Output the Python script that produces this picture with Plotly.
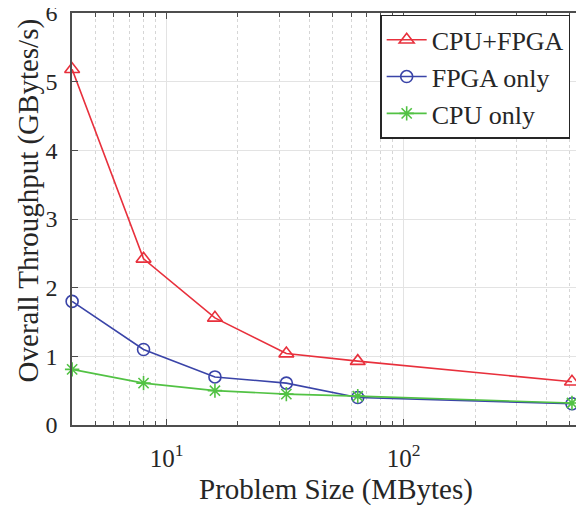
import plotly.graph_objects as go

sizes = [4, 8, 16, 32, 64, 512]
cpu_fpga = [5.18, 2.42, 1.56, 1.04, 0.93, 0.63]
fpga_only = [1.80, 1.10, 0.70, 0.61, 0.40, 0.31]
cpu_only = [0.81, 0.61, 0.50, 0.45, 0.42, 0.32]
series_names = ["CPU+FPGA", "FPGA only", "CPU only"]
y_ticks = [0, 1, 2, 3, 4, 5, 6]
x_tick_vals = [10, 100]
x_tick_text = ["10<sup>1</sup>", "10<sup>2</sup>"]
x_minor_vals = [m * 10 ** e for e in range(0, 3) for m in range(2, 10)]

FONT = "Liberation Serif"
TXT = "#262626"
AX = "#4d4d4d"
RED = "#e8303c"
BLUE = "#3a44a8"
GREEN = "#52c244"

fig = go.Figure()
fig.add_trace(go.Scatter(x=sizes, y=cpu_fpga, name=series_names[0], mode="lines+markers",
                         cliponaxis=False,
                         line=dict(color=RED, width=1.6),
                         marker=dict(symbol="triangle-up-open", size=13, color=RED, line=dict(width=1.6))))
fig.add_trace(go.Scatter(x=sizes, y=fpga_only, name=series_names[1], mode="lines+markers",
                         cliponaxis=False,
                         line=dict(color=BLUE, width=1.6),
                         marker=dict(symbol="circle-open", size=12, color=BLUE, line=dict(width=1.6))))
fig.add_trace(go.Scatter(x=sizes, y=cpu_only, name=series_names[2], mode="lines+markers",
                         cliponaxis=False,
                         line=dict(color=GREEN, width=1.6),
                         marker=dict(symbol="asterisk-open", size=12, color=GREEN, line=dict(width=1.6, color=GREEN))))

fig.update_layout(
    width=584, height=511,
    margin=dict(l=64, r=8, t=5, b=94, autoexpand=False),
    paper_bgcolor="white", plot_bgcolor="white",
    font=dict(family=FONT, color=TXT, size=24),
    showlegend=True,
    legend=dict(x=0.973, y=0.845, xanchor="right", yanchor="middle",
                bgcolor="white", bordercolor=TXT, borderwidth=1.5,
                font=dict(family=FONT, size=26, color=TXT),
                tracegroupgap=0, itemwidth=40),
    xaxis=dict(type="log", range=[0.6015, 2.76],
               tickmode="array", tickvals=x_tick_vals, ticktext=x_tick_text,
               showline=True, linecolor=AX, linewidth=1.5, mirror="ticks",
               ticks="inside", ticklen=6, tickcolor=AX,
               showgrid=True, gridcolor="#e3e3e3", gridwidth=1,
               minor=dict(tickmode="array", tickvals=x_minor_vals, ticks="inside", ticklen=4, tickcolor=AX,
                          showgrid=True, gridcolor="#d6d6d6", griddash="dot", gridwidth=1),
               tickfont=dict(family=FONT, size=25, color=TXT),
               ticklabelstandoff=10,
               automargin=False, ticklabeloverflow="allow",
               zeroline=False),
    yaxis=dict(range=[0, 6], tickmode="array", tickvals=y_ticks,
               showline=True, linecolor=AX, linewidth=1.5, mirror="ticks",
               ticks="inside", ticklen=6, tickcolor=AX,
               showgrid=True, gridcolor="#e3e3e3", gridwidth=1,
               tickfont=dict(family=FONT, size=24, color=TXT),
               ticklabelstandoff=8,
               automargin=False, ticklabeloverflow="allow",
               zeroline=False),
    annotations=[
        dict(text="Problem Size (MBytes)", xref="paper", yref="paper", x=0.516, y=-0.157,
             xanchor="center", yanchor="middle", showarrow=False,
             font=dict(family=FONT, size=29, color=TXT)),
        dict(text="Overall Throughput (GBytes/s)", xref="paper", yref="paper", x=-0.086, y=0.545,
             xanchor="center", yanchor="middle", showarrow=False, textangle=-90,
             font=dict(family=FONT, size=29, color=TXT)),
    ],
)

fig.write_html("out.html")
